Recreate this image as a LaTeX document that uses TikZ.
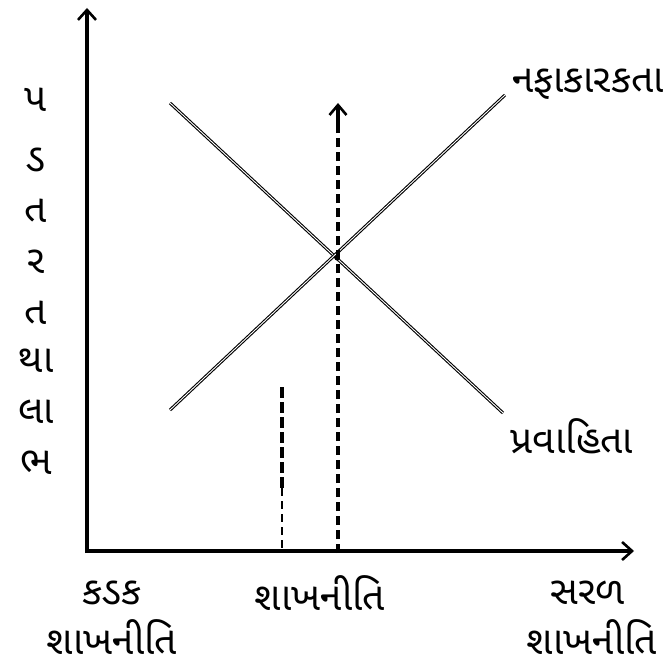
\documentclass[tikz,border=0pt]{standalone}
\usepackage{fontspec}
\newfontfamily\guj[Script=Gujarati]{Noto Sans Gujarati UI}
\usetikzlibrary{arrows.meta}
\begin{document}
\begin{tikzpicture}[x=1pt,y=-1pt,
  lbl/.style={font=\guj\fontsize{39}{44}\selectfont, inner sep=0pt, anchor=center},
  axis/.style={line width=3.4pt, -{Straight Barb[length=10pt,width=18pt,line width=2.6pt]}},
  curve/.style={line width=1.1pt, double=white, double distance=0.9pt},
  tdash/.style={line width=4.5pt, dash pattern=on 9pt off 5pt}
]
\useasboundingbox (0,0) rectangle (669,666);
\coordinate (O) at (87,551);
\coordinate (Ytop) at (87,8);
\coordinate (Xend) at (634,551);
\draw[axis] (87,553) -- (Ytop);
\draw[axis] (85,551) -- (Xend);
% curves
\coordinate (L1a) at (170,103);
\coordinate (L1b) at (503,413);
\coordinate (L2a) at (170,410);
\coordinate (L2b) at (505,95);
\draw[curve] (L1a) -- (L1b);
\draw[curve] (L2a) -- (L2b);
\fill (337,258) circle (2.5pt);
% dashed arrow
\coordinate (D0) at (338,553);
\coordinate (D1) at (338,103);
\draw[tdash] (D0) -- (338,120);
\draw[line width=3.4pt, -{Straight Barb[length=10pt,width=17pt,line width=2.6pt]}] (338,127) -- (D1);
% short dashed
\coordinate (S0) at (282,551);
\coordinate (S1) at (282,488);
\coordinate (S2) at (282,387);
\draw[line width=3.6pt, dash pattern=on 11pt off 4pt] (S2) -- (S1);
\draw[line width=1.1pt, dash pattern=on 8pt off 5pt] (S1) -- (S0);
% y labels
\node[lbl] (y1) at (36,100) {પ};
\node[lbl] (y2) at (36,160) {ડ};
\node[lbl] (y3) at (36,211) {ત};
\node[lbl] (y4) at (36,262) {ર};
\node[lbl] (y5) at (36,313) {ત};
\node[lbl] (y6) at (36,361) {થા};
\node[lbl] (y7) at (36,412) {લા};
\node[lbl] (y8) at (36,463) {ભ};
% curve labels
\node[lbl] (nf) at (588,84) {નફાકારકતા};
\node[lbl] (pv) at (572,436) {પ્રવાહિતા};
% x labels
\node[lbl] (k1) at (112,593) {કડક};
\node[lbl] (k2) at (112,637) {શાખનીતિ};
\node[lbl] (m1) at (320,593) {શાખનીતિ};
\node[lbl] (s1) at (588,593) {સરળ};
\node[lbl] (s2) at (592,637) {શાખનીતિ};
\end{tikzpicture}
\end{document}
